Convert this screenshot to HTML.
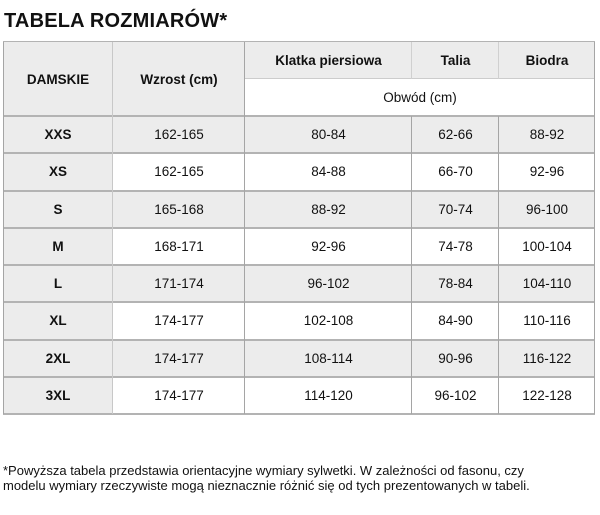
<!DOCTYPE html>
<html><head><meta charset="utf-8"><style>
body{margin:0;width:600px;height:515px;background:#fff;position:relative;overflow:hidden;font-family:"Liberation Sans",sans-serif;color:#111}
.c{position:absolute;display:flex;align-items:center;justify-content:center;font-size:13.5px;box-sizing:border-box}
.g{background:#ececec}.w{background:#fff}
.b{font-weight:bold}
.h{position:absolute;height:2px;background:#b3b3b3}
.v{position:absolute;width:1px;background:#a5a5a5}
</style></head><body>
<div style="position:absolute;left:4px;top:10px;font-size:20px;font-weight:bold;letter-spacing:0.2px">TABELA ROZMIARÓW*</div>

<div class="c g b" style="left:3px;top:42px;width:110px;height:74px">DAMSKIE</div>
<div class="c g b" style="left:113px;top:42px;width:132px;height:74px">Wzrost (cm)</div>
<div class="c g b" style="left:245px;top:42px;width:167px;height:37px">Klatka piersiowa</div>
<div class="c g b" style="left:412px;top:42px;width:87px;height:37px">Talia</div>
<div class="c g b" style="left:499px;top:42px;width:96px;height:37px">Biodra</div>
<div class="c w" style="left:245px;top:79px;width:350px;height:37px">Obwód (cm)</div>

<div id="rows"></div>
<script>
var d=[["XXS","162-165","80-84","62-66","88-92"],["XS","162-165","84-88","66-70","92-96"],["S","165-168","88-92","70-74","96-100"],["M","168-171","92-96","74-78","100-104"],["L","171-174","96-102","78-84","104-110"],["XL","174-177","102-108","84-90","110-116"],["2XL","174-177","108-114","90-96","116-122"],["3XL","174-177","114-120","96-102","122-128"]];
var xs=[3,113,245,412,499,595],h="";
for(var i=0;i<8;i++){var y=116+i*37.25;
for(var j=0;j<5;j++){var cls=(j==0||i%2==0)?"g":"w";if(j==0)cls+=" b";
h+='<div class="c '+cls+'" style="left:'+xs[j]+'px;top:'+y+'px;width:'+(xs[j+1]-xs[j])+'px;height:37.25px">'+d[i][j]+'</div>';}
h+='<div class="h" style="left:3px;width:592px;top:'+(y-1)+'px"></div>';}
h+='<div class="h" style="left:3px;width:592px;top:413px"></div>';
h+='<div class="h" style="left:3px;width:592px;top:41px;height:1px"></div>';
h+='<div class="h" style="left:245px;width:350px;top:78px;height:1px;background:#ccc"></div>';
h+='<div class="v" style="left:3px;top:42px;height:372px"></div>';
h+='<div class="v" style="left:594px;top:42px;height:372px"></div>';
h+='<div class="v" style="left:112px;top:42px;height:372px;background:#c8c8c8"></div>';
h+='<div class="v" style="left:244px;top:42px;height:372px"></div>';
h+='<div class="v" style="left:411px;top:42px;height:37px;background:#d0d0d0"></div>';
h+='<div class="v" style="left:498px;top:42px;height:37px;background:#d0d0d0"></div>';
h+='<div class="v" style="left:411px;top:116px;height:298px"></div>';
h+='<div class="v" style="left:498px;top:116px;height:298px"></div>';
document.getElementById("rows").innerHTML=h;
</script>
<div style="position:absolute;left:3px;top:464px;font-size:13px;line-height:14.5px;color:#111;white-space:nowrap">*Powyższa tabela przedstawia orientacyjne wymiary sylwetki. W zależności od fasonu, czy<br>modelu wymiary rzeczywiste mogą nieznacznie różnić się od tych prezentowanych w tabeli.</div>
</body></html>
